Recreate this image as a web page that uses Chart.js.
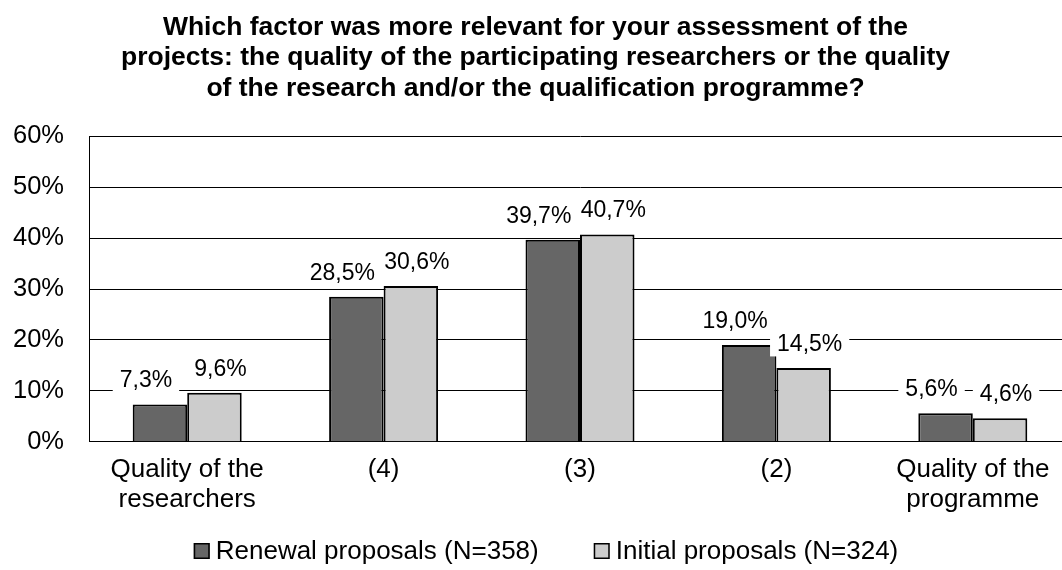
<!DOCTYPE html>
<html>
<head>
<meta charset="utf-8">
<script src="https://cdn.jsdelivr.net/npm/chart.js@4"></script>
<style>
html,body{margin:0;padding:0;background:#fff;overflow:hidden;}
#wrap{width:1062px;height:570px;overflow:hidden;position:relative;}
#c{position:absolute;left:0;top:0;}
</style>
</head>
<body>
<div id="wrap"><canvas id="c" width="1092" height="570"></canvas></div>
<script>
const categories = [["Quality of the","researchers"],"(4)","(3)","(2)",["Quality of the","programme"]];
const renewal = [7.3, 28.5, 39.7, 19.0, 5.6];
const initial = [9.6, 30.6, 40.7, 14.5, 4.6];
const seriesNames = ["Renewal proposals (N=358)","Initial proposals (N=324)"];
const titleLines = ["Which factor was more relevant for your assessment of the","projects: the quality of the participating researchers or the quality","of the research and/or the qualification programme?"];
const yTicks = [0,10,20,30,40,50,60];

const FONT = "'Liberation Sans', Arial, sans-serif";
const fmt = v => v.toFixed(1).replace('.', ',') + '%';

const labelPlugin = {
  id: 'valueLabels',
  afterDatasetsDraw(chart) {
    const ctx = chart.ctx;
    ctx.save();
    ctx.font = "23px " + FONT;
    ctx.textAlign = 'center';
    ctx.textBaseline = 'middle';
    chart.data.datasets.forEach((ds, di) => {
      const meta = chart.getDatasetMeta(di);
      const shift = di === 0 ? -14 : 6;
      meta.data.forEach((bar, i) => {
        const txt = fmt(ds.data[i]);
        const x = bar.x + shift;
        const y = bar.y - 23.5;
        const w = ctx.measureText(txt).width;
        ctx.fillStyle = '#fff';
        ctx.fillRect(x - w/2 - 7, y - 12, w + 14, 24);
        ctx.fillStyle = '#000';
        ctx.fillText(txt, x, y);
      });
    });
    ctx.restore();
  }
};

const legendPlugin = {
  id: 'bottomLegend',
  afterDraw(chart) {
    const ctx = chart.ctx;
    ctx.save();
    ctx.font = "26px " + FONT;
    ctx.textBaseline = 'middle';
    ctx.textAlign = 'left';
    const box = 16, gapText = 6, gapItem = 55, cy = 551;
    const items = chart.data.datasets.map(ds => ({label: ds.label, color: ds.backgroundColor, w: ctx.measureText(ds.label).width}));
    const total = items.reduce((s, it) => s + box + gapText + it.w, 0) + gapItem * (items.length - 1);
    let x = chart.width / 2 - total / 2;
    items.forEach(it => {
      ctx.fillStyle = it.color;
      ctx.fillRect(x, cy - box/2, box, box);
      ctx.strokeStyle = '#000';
      ctx.lineWidth = 1.5;
      ctx.strokeRect(x + 0.75, cy - box/2 + 0.75, box - 1.5, box - 1.5);
      ctx.fillStyle = '#000';
      ctx.fillText(it.label, x + box + gapText, cy + 1);
      x += box + gapText + it.w + gapItem;
    });
    ctx.restore();
  }
};

new Chart(document.getElementById('c'), {
  type: 'bar',
  data: {
    labels: categories,
    datasets: [
      {label: seriesNames[0], data: renewal, backgroundColor: '#666666', borderColor: '#000', borderWidth: 2, borderSkipped: 'bottom', categoryPercentage: 0.555, barPercentage: 1.0},
      {label: seriesNames[1], data: initial, backgroundColor: '#cccccc', borderColor: '#000', borderWidth: 2, borderSkipped: 'bottom', categoryPercentage: 0.555, barPercentage: 1.0}
    ]
  },
  options: {
    responsive: false,
    animation: false,
    devicePixelRatio: 1,
    layout: {padding: {left: 0, right: 21, top: 0, bottom: 42.5}},
    plugins: {
      title: {display: true, text: titleLines, color: '#000', font: {family: FONT, size: 26.5, weight: 'bold', lineHeight: 1.15}, padding: {top: 12, bottom: 33}},
      legend: {display: false},
      tooltip: {enabled: false}
    },
    scales: {
      x: {
        grid: {display: false, drawTicks: false},
        border: {display: true, color: '#000', width: 1},
        ticks: {color: '#000', font: {family: FONT, size: 26, lineHeight: 1.15}, padding: 13, maxRotation: 0, autoSkip: false}
      },
      y: {
        min: 0, max: 60,
        afterFit(scale) { scale.width = 89; },
        afterBuildTicks(scale) { scale.ticks = yTicks.map(v => ({value: v})); },
        grid: {color: '#000', lineWidth: 1, drawTicks: false},
        border: {display: true, color: '#000', width: 1},
        ticks: {color: '#000', font: {family: FONT, size: 25.5}, padding: 25, callback: v => v + '%'}
      }
    }
  },
  plugins: [labelPlugin, legendPlugin]
});
</script>
</body>
</html>
